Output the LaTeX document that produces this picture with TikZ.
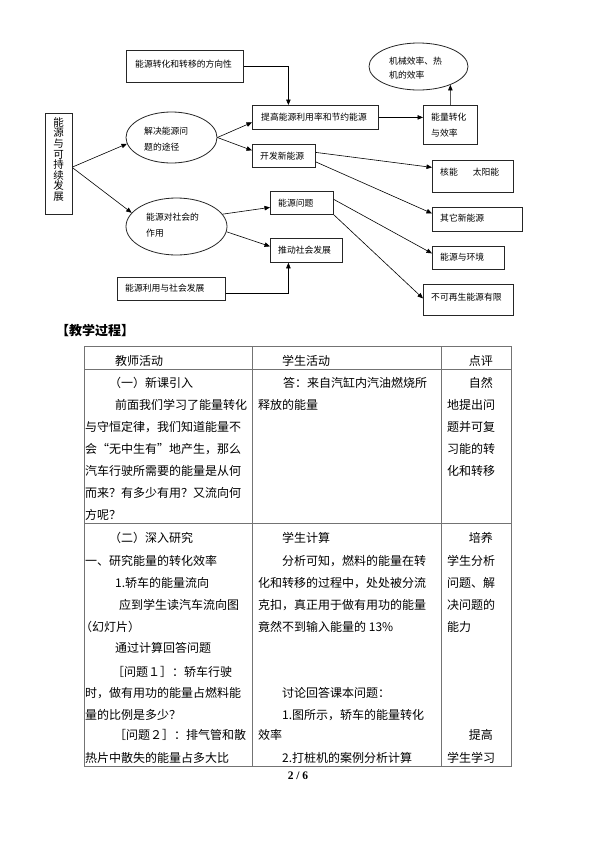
\documentclass[tikz,border=0pt]{standalone}
\usepackage{fontspec}
\setmainfont{Noto Sans CJK SC}
\newfontfamily\tnr{Liberation Serif}
\usetikzlibrary{arrows.meta,shapes.geometric}
\newcommand\dfont{\fontsize{8.8}{16}\selectfont}
\newcommand\tfont{\fontsize{12}{14}\selectfont}
\tikzset{
  box/.style={draw=black!85, line width=0.8pt, rectangle, inner sep=0pt, anchor=north west},
  oval/.style={draw=black!85, line width=0.8pt, ellipse, inner sep=0pt},
  arr/.style={-{Triangle[length=5.5pt,width=4.5pt]}, line width=0.6pt},
  dt/.style={font=\dfont, inner sep=0pt, anchor=west, align=left},
  tt/.style={font=\tfont, inner sep=0pt, anchor=west},
  tr/.style={font=\tfont, inner sep=0pt, anchor=east},
  rule/.style={draw=black!55, line width=0.8pt}
}
\begin{document}
\begin{tikzpicture}[x=1pt,y=-1pt]
\path[use as bounding box, fill=white] (0,0) rectangle (595,841);

% ---------- diagram ----------
\node[box, minimum width=117pt, minimum height=32pt] (fx) at (126,50) {};
\node[dt] (fxt) at (135,64) {能源转化和转移的方向性};
\node[box, minimum width=126pt, minimum height=24pt] (tg) at (252,105) {};
\node[dt] (tgt) at (261,117) {提高能源利用率和节约能源};
\node[box, minimum width=54pt, minimum height=39pt] (ne) at (423,105) {};
\node[dt] (net) at (431,125) {能量转化\\与效率};
\node[oval, minimum width=99pt, minimum height=47pt] (e3) at (418.5,66.5) {};
\node[dt, font=\fontsize{8.8}{14}\selectfont] (e3t) at (389,68) {机械效率、热\\机的效率};
\node[box, minimum width=63pt, minimum height=23pt] (kf) at (252,144) {};
\node[dt] (kft) at (260,156) {开发新能源};
\node[box, minimum width=27pt, minimum height=101pt] (vb) at (45,113) {};
\node[font=\fontsize{10.5}{10.6}\selectfont, align=center, inner sep=0pt] (vbt) at (58.5,159.5) {能\\源\\与\\可\\持\\续\\发\\展};
\node[oval, minimum width=91pt, minimum height=51pt] (e1) at (171.5,137.5) {};
\node[dt] (e1t) at (144,139) {解决能源问\\题的途径};
\node[oval, minimum width=101pt, minimum height=57pt] (e2) at (176.5,226.5) {};
\node[dt] (e2t) at (146,225) {能源对社会的\\作用};
\node[box, minimum width=63pt, minimum height=23pt] (wt) at (270,191) {};
\node[dt] (wtt) at (278,203) {能源问题};
\node[box, minimum width=72pt, minimum height=24pt] (td) at (270,238) {};
\node[dt] (tdt) at (278,250) {推动社会发展};
\node[box, minimum width=108pt, minimum height=23pt] (ly) at (117,277) {};
\node[dt] (lyt) at (125,288.5) {能源利用与社会发展};
\node[box, minimum width=81pt, minimum height=32pt] (hn) at (432,160) {};
\node[dt] (hnt) at (440,172) {核能\hspace{15pt}太阳能};
\node[box, minimum width=90pt, minimum height=24pt] (qt) at (432,207) {};
\node[dt] (qtt) at (440,218.5) {其它新能源};
\node[box, minimum width=72pt, minimum height=23pt] (hj) at (432,246) {};
\node[dt] (hjt) at (440,257) {能源与环境};
\node[box, minimum width=90pt, minimum height=31pt] (bk) at (423,284) {};
\node[dt] (bkt) at (431,297) {不可再生能源有限};

% connectors
\draw[arr] (fx.east) -| ([xshift=-27pt]tg.north);
\draw[arr] (tg.east) -- (tg.east -| ne.west);
\draw[arr] (ne.north) -- (e3.-30);
\draw[arr] ([yshift=-3pt]vb.east) -- (e1.188);
\draw[arr] ([yshift=-4pt]vb.east) -- (e2.163);
\draw[arr] (e1.east) -- ([yshift=-5pt]tg.west);
\draw[arr] (e1.east) -- ([yshift=5.5pt]kf.west);
\draw[arr] ([yshift=3.5pt]kf.east) -- ([yshift=9pt]hn.west);
\draw[arr] ([yshift=-6pt]kf.east) -- ([yshift=6pt]qt.west);
\draw[arr] (e2.15) -- ([yshift=-4.5pt]wt.west);
\draw[arr] (e2.-6) -- ([yshift=4pt]td.west);
\draw[arr] ([yshift=3.5pt]wt.east) -- ([yshift=4.5pt]hj.west);
\draw[arr] (wt.south east) -- ([yshift=1.5pt]bk.west);
\draw[arr] ([yshift=-4.5pt]ly.east) -| ([xshift=-18pt]td.south);

% ---------- heading ----------
\node[font=\fontsize{13}{15}\selectfont\bfseries, inner sep=0pt, anchor=west] (hd) at (56,331) {【教学过程】};

% ---------- table ----------
\draw[rule] (84,346) rectangle (511,766);
\draw[rule] (84,369) -- (511,369);
\draw[rule] (84,523) -- (511,523);
\draw[rule] (252,346) -- (252,766);
\draw[rule] (441,346) -- (441,766);

\node[tt] (h1) at (115,361) {教师活动};
\node[tt] (h2) at (282,361) {学生活动};
\node[tr] (h3) at (493,361) {点评};

% row 1
\node[tt] (a1) at (109,383) {（一）新课引入};
\node[tt] (a2) at (115,405) {前面我们学习了能量转化};
\node[tt] (a3) at (85,427) {与守恒定律，我们知道能量不};
\node[tt] (a4) at (85,449) {会“无中生有”地产生，那么};
\node[tt] (a5) at (85,471) {汽车行驶所需要的能量是从何};
\node[tt] (a6) at (85,493) {而来？有多少有用？又流向何};
\node[tt] (a7) at (85,515) {方呢？};
\node[tt] (b1) at (283,383) {答：来自汽缸内汽油燃烧所};
\node[tt] (b2) at (258,405) {释放的能量};
\node[tr] (c1) at (493,383) {自然};
\node[tt] (c2) at (447,405) {地提出问};
\node[tt] (c3) at (447,427) {题并可复};
\node[tt] (c4) at (447,449) {习能的转};
\node[tt] (c5) at (447,471) {化和转移};

% row 2
\node[tt] (d1) at (109,538) {（二）深入研究};
\node[tt] (d2) at (85,561) {一、研究能量的转化效率};
\node[tt] (d3) at (115,583) {1.轿车的能量流向};
\node[tt] (d4) at (119,605) {应到学生读汽车流向图};
\node[tt] (d5) at (80,627) {（幻灯片）};
\node[tt] (d6) at (115,648) {通过计算回答问题};
\node[tt] (d7) at (112,672) {［问题１］：轿车行驶};
\node[tt] (d8) at (85,693) {时，做有用功的能量占燃料能};
\node[tt] (d9) at (85,715) {量的比例是多少？};
\node[tt] (d10) at (114,735) {［问题２］：排气管和散};
\node[tt] (d11) at (85,758) {热片中散失的能量占多大比};
\node[tt] (f1) at (282,538) {学生计算};
\node[tt] (f2) at (282,561) {分析可知，燃料的能量在转};
\node[tt] (f3) at (258,583) {化和转移的过程中，处处被分流};
\node[tt] (f4) at (258,605) {克扣，真正用于做有用功的能量};
\node[tt] (f5) at (258,627) {竟然不到输入能量的 13\%};
\node[tt] (f6) at (282,693) {讨论回答课本问题：};
\node[tt] (f7) at (282,715) {1.图所示，轿车的能量转化};
\node[tt] (f8) at (258,735) {效率};
\node[tt] (f9) at (282,758) {2.打桩机的案例分析计算};
\node[tr] (g1) at (493,538) {培养};
\node[tt] (g2) at (447,561) {学生分析};
\node[tt] (g3) at (447,583) {问题、解};
\node[tt] (g4) at (447,605) {决问题的};
\node[tt] (g5) at (447,627) {能力};
\node[tr] (g6) at (493,735) {提高};
\node[tt] (g7) at (447,758) {学生学习};

% page number
\node[font=\tnr\bfseries\fontsize{11.5}{13}\selectfont, inner sep=0pt] (pg) at (298,776) {2 / 6};
\end{tikzpicture}
\end{document}
